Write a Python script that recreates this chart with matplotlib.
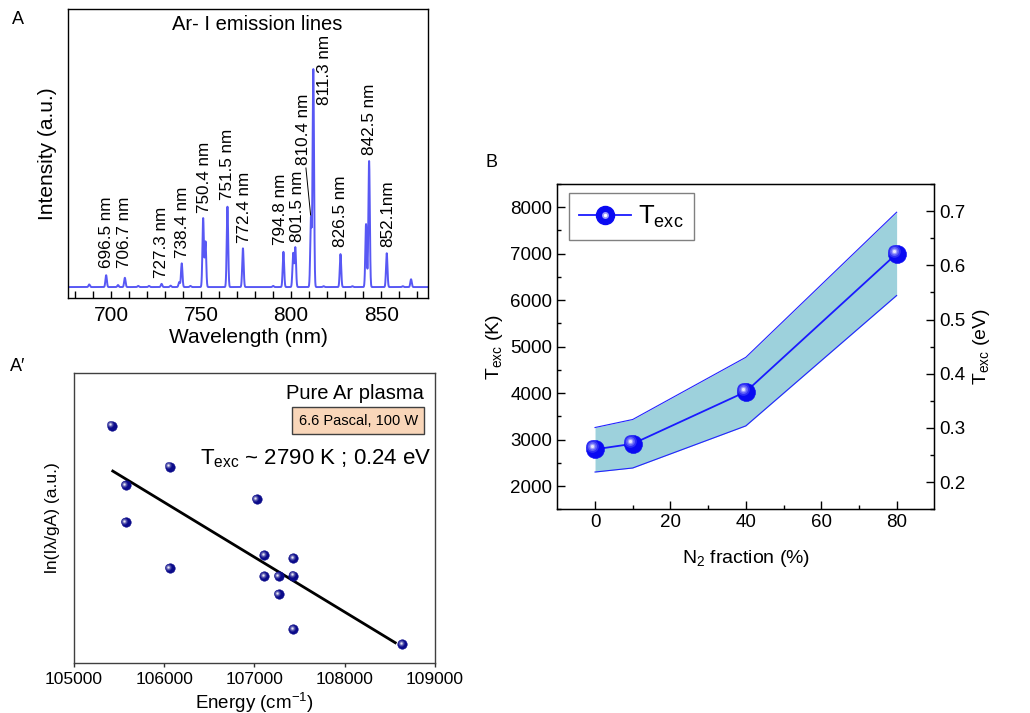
import numpy as np
import matplotlib
matplotlib.use("Agg")
import matplotlib.pyplot as plt
from matplotlib.transforms import offset_copy
from matplotlib.lines import Line2D
from matplotlib.legend_handler import HandlerTuple
from matplotlib.colors import to_rgb

plt.rcParams['font.family'] = ['Liberation Sans', 'DejaVu Sans']
plt.rcParams['mathtext.fontset'] = 'custom'
plt.rcParams['mathtext.rm'] = 'Liberation Sans'
plt.rcParams['mathtext.it'] = 'Liberation Sans:italic'

# ---- panel A : Ar-I emission spectrum (peak centre nm, peak height a.u.)
peak_nm = [687.8, 697.2, 703.8, 707.6, 715.0, 721.0, 728.0, 733.0, 737.8, 739.2,
           744.0, 751.1, 752.4, 764.6, 773.2, 790.0, 795.7, 801.1, 802.3, 811.0,
           812.3, 818.0, 827.4, 834.0, 841.6, 843.3, 853.1, 862.0, 866.6]
peak_h = [0.047, 0.079, 0.045, 0.070, 0.042, 0.042, 0.049, 0.043, 0.055, 0.120,
          0.042, 0.276, 0.195, 0.316, 0.172, 0.042, 0.160, 0.155, 0.175, 0.279,
          0.791, 0.041, 0.152, 0.041, 0.256, 0.474, 0.155, 0.041, 0.065]
baseline = 0.038

line_labels = ['696.5 nm', '706.7 nm', '727.3 nm', '738.4 nm', '750.4 nm', '751.5 nm',
               '772.4 nm', '794.8 nm', '801.5 nm', '810.4 nm', '811.3 nm', '826.5 nm',
               '842.5 nm', '852.1nm']
label_x = [697.4, 707.6, 728.0, 739.7, 752.1, 764.8, 774.3, 794.3, 803.7, 807.1,
           818.6, 827.4, 843.7, 853.6]
label_y = [0.104, 0.104, 0.069, 0.138, 0.294, 0.339, 0.190, 0.183, 0.194, 0.460,
           0.668, 0.176, 0.495, 0.176]

# ---- panel A' : Boltzmann plot
energy = [105417, 106060, 105572, 105572, 106060, 107024, 107109, 107430, 107109,
          107268, 107430, 107268, 107430, 108638]
ln_int = [0.817, 0.675, 0.612, 0.485, 0.326, 0.563, 0.371, 0.360, 0.299,
          0.299, 0.300, 0.236, 0.115, 0.064]
fit_E = [105430, 108560]
fit_y = [0.661, 0.069]

# ---- panel B : excitation temperature vs N2 fraction
n2 = [0, 10, 40, 80]
texc = [2790, 2910, 4030, 7000]
texc_hi = [3260, 3433, 4771, 7893]
texc_lo = [2302, 2389, 3295, 6101]


def blend(c, t):
    r = np.array(to_rgb(c))
    return tuple(r + (1 - r) * t)


def sphere(ax, x, y, ms, base, z=5):
    ax.plot(x, y, 'o', ls='none', ms=ms, mfc=base, mec=base, mew=0.4, zorder=z)
    for k, (f, t) in enumerate([(0.7, 0.15), (0.5, 0.35), (0.32, 0.6), (0.18, 0.9)]):
        off = ms * 0.16
        tr = offset_copy(ax.transData, fig=ax.figure, x=-off, y=off, units='points')
        ax.plot(x, y, 'o', ls='none', ms=ms * f, mfc=blend(base, t), mec='none',
                transform=tr, zorder=z + 0.1 * (k + 1))


fig = plt.figure(figsize=(10.3, 7.13), dpi=100)

# ================= panel A
axA = fig.add_axes([0.0660, 0.5820, 0.3495, 0.4053])
wl = np.arange(676, 876, 0.05)
spec = np.full_like(wl, baseline)
for c, h in zip(peak_nm, peak_h):
    spec += (h - baseline) * np.exp(-(wl - c) ** 2 / (2 * 0.4 ** 2))
axA.plot(wl, spec, color='#5858f4', lw=1.4)
axA.set_xlim(676, 876)
axA.set_ylim(0, 1)
axA.set_yticks([])
axA.set_xticks([700, 750, 800, 850])
axA.set_xticks(np.arange(680, 876, 10), minor=True)
axA.tick_params(axis='x', which='both', direction='in', length=5, width=1,
                labelsize=15, pad=6)
for s in axA.spines.values():
    s.set_linewidth(1)
for t, x, y in zip(line_labels, label_x, label_y):
    axA.text(x, y, t, rotation=90, ha='center', va='bottom', fontsize=12.3)
axA.plot([808.2, 810.8], [0.450, 0.287], color='black', lw=0.7)
axA.text(0.525, 0.948, 'Ar- I emission lines', transform=axA.transAxes,
         ha='center', va='center', fontsize=14.5)
axA.set_xlabel('Wavelength (nm)', fontsize=15, labelpad=2)
axA.set_ylabel('Intensity (a.u.)', fontsize=15, labelpad=8)
fig.text(18 / 1030, 1 - 20 / 713, 'A', fontsize=13, ha='center', va='center')

# ================= panel A'
axP = fig.add_axes([0.0718, 0.0705, 0.3505, 0.4067])
axP.plot(fit_E, fit_y, color='black', lw=2)
sphere(axP, energy, ln_int, 6.8, '#0b0b8a')
axP.set_xlim(105000, 109000)
axP.set_ylim(0, 1)
axP.set_yticks([])
axP.set_xticks([105000, 106000, 107000, 108000, 109000])
axP.tick_params(axis='x', direction='out', length=3, width=1, labelsize=12.5,
                colors='#303030', labelcolor='black')
for s in axP.spines.values():
    s.set_linewidth(1)
    s.set_color('#404040')
axP.set_xlabel('Energy (cm$^{-1}$)', fontsize=13.5, labelpad=3)
axP.set_ylabel(u'ln(I\u03bb/gA) (a.u.)', fontsize=12.5, labelpad=10)
axP.text(0.97, 0.93, 'Pure Ar plasma', transform=axP.transAxes, ha='right',
         va='center', fontsize=14.5)
axP.text(0.787, 0.835, '6.6 Pascal, 100 W', transform=axP.transAxes, ha='center',
         va='center', fontsize=10.5,
         bbox=dict(boxstyle='square,pad=0.45', fc='#f9d6b9', ec='#404040', lw=1))
axP.text(0.349, 0.685, r'T$_{\rm exc}$ ~ 2790 K ; 0.24 eV', transform=axP.transAxes,
         ha='left', va='baseline', fontsize=16)
fig.text(18 / 1030, 1 - 367 / 713, u'A\u2032', fontsize=13, ha='center', va='center')

# ================= panel B
axB = fig.add_axes([0.5411, 0.2857, 0.3660, 0.4562])
axB.fill_between(n2, texc_lo, texc_hi, color='#9dd1dc', lw=0, zorder=1)
axB.plot(n2, texc_hi, color='#2222ff', lw=0.8, zorder=2)
axB.plot(n2, texc_lo, color='#2222ff', lw=0.8, zorder=2)
axB.plot(n2, texc, color='#1a1aff', lw=1.3, zorder=3)
sphere(axB, n2, texc, 13, '#0a0af2')
axB.set_xlim(-10, 90)
axB.set_ylim(1500, 8500)
axB.set_xticks([0, 20, 40, 60, 80])
axB.set_xticks([10, 30, 50, 70], minor=True)
axB.set_yticks(np.arange(2000, 8001, 1000))
axB.set_yticks(np.arange(1500, 8501, 500), minor=True)
axB.tick_params(which='major', direction='in', length=6, width=1, labelsize=13.5)
axB.tick_params(which='minor', direction='in', length=3, width=1)
for s in axB.spines.values():
    s.set_linewidth(1)
axB.set_xlabel('N$_2$ fraction (%)', fontsize=14, labelpad=12)
axB.set_ylabel(r'T$_{\rm exc}$ (K)', fontsize=14, labelpad=4)

axR = axB.twinx()
axR.set_ylim(0.15, 0.75)
axR.set_yticks([0.2, 0.3, 0.4, 0.5, 0.6, 0.7])
axR.set_yticks(np.arange(0.15, 0.751, 0.05), minor=True)
axR.tick_params(which='major', direction='in', length=6, width=1, labelsize=13.5)
axR.tick_params(which='minor', direction='in', length=3, width=1)
axR.set_ylabel(r'T$_{\rm exc}$ (eV)', fontsize=14, labelpad=4)

h1 = Line2D([], [], color='#1a1aff', lw=1.3, marker='o', ms=13,
            mfc='#0a0af2', mec='#0a0af2')
h2 = Line2D([], [], ls='none', marker='o', ms=5, mfc=blend('#0a0af2', 0.6), mec='none')
h3 = Line2D([], [], ls='none', marker='o', ms=2.5, mfc='white', mec='none')
leg = axB.legend([(h1, h2, h3)], [r'T$_{\rm exc}$'], loc='upper left',
                 bbox_to_anchor=(0.031, 0.971), borderaxespad=0, fontsize=18.5,
                 frameon=True, fancybox=False, edgecolor='#606060',
                 handlelength=2.0, handletextpad=0.3, borderpad=0.4,
                 handler_map={tuple: HandlerTuple(ndivide=1, pad=0)})
leg.get_frame().set_linewidth(1)
fig.text(491.7 / 1030, 1 - 162.7 / 713, 'B', fontsize=13, ha='center', va='center')

fig.savefig('out.png', dpi=100)
